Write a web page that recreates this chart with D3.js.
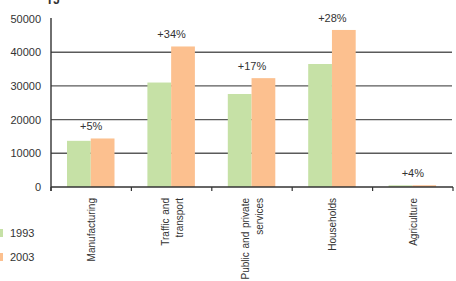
<!DOCTYPE html>
<html lang="en">
<head>
    <meta charset="UTF-8">
    <script src="https://d3js.org/d3.v7.min.js"></script>
    <style>
        body { margin: 0; background: white; }
        text { font-family: "Liberation Sans", Arial, sans-serif; fill: #333; }
        .cat { word-spacing: 1px; }
    </style>
</head>
<body>
<div id="chart"></div>
<script>
    // data
    const categories = [["Manufacturing"], ["Traffic and", "transport"], ["Public and private", "services"], ["Households"], ["Agriculture"]];
    const years = ["1993", "2003"];
    const values1993 = [13700, 31000, 27600, 36500, 500];
    const values2003 = [14400, 41700, 32300, 46600, 520];
    const changeLabels = ["+5%", "+34%", "+17%", "+28%", "+4%"];
    const yTicks = [0, 10000, 20000, 30000, 40000, 50000];
    const colors = ["#c6e1a6", "#fcc08f"];

    const W = 456, H = 281;
    const svg = d3.select("#chart").append("svg")
        .attr("width", W).attr("height", H);

    const x = d3.scaleBand().domain(d3.range(categories.length)).range([51, 453]);
    const y = d3.scaleLinear().domain([0, 50000]).range([187, 18.5]);
    const inner = d3.scaleBand().domain(years).range([16, 63.5]);

    // gridlines
    svg.append("g").selectAll("line")
        .data(yTicks.filter(d => d > 0 && d < 50000))
        .join("line")
        .attr("x1", 51).attr("x2", 452)
        .attr("y1", d => y(d)).attr("y2", d => y(d))
        .attr("stroke", "#5a5a5a").attr("stroke-width", 1.4);

    // y labels
    svg.append("g").selectAll("text")
        .data(yTicks).join("text")
        .attr("x", 41).attr("y", d => y(d) + 4)
        .attr("text-anchor", "end")
        .attr("font-size", 11)
        .text(d => d);

    // bars
    const series = [values1993, values2003];
    const grp = svg.append("g").selectAll("g")
        .data(categories.map((c, i) => i)).join("g")
        .attr("transform", i => `translate(${x(i)},0)`);
    grp.selectAll("rect")
        .data(i => years.map((yr, k) => ({ yr, v: series[k][i], k })))
        .join("rect")
        .attr("x", d => inner(d.yr))
        .attr("width", inner.bandwidth())
        .attr("y", d => y(d.v))
        .attr("height", d => y(0) - y(d.v))
        .attr("fill", d => colors[d.k]);

    // change labels
    grp.append("text")
        .attr("x", x.bandwidth() / 2)
        .attr("y", i => y(values2003[i]) - 8)
        .attr("text-anchor", "middle")
        .attr("font-size", 11)
        .text(i => changeLabels[i]);

    // axes
    svg.append("line")
        .attr("x1", 51).attr("x2", 51).attr("y1", 18).attr("y2", 191)
        .attr("stroke", "#333").attr("stroke-width", 1.4);
    svg.append("line")
        .attr("x1", 51).attr("x2", 453).attr("y1", y(0)).attr("y2", y(0))
        .attr("stroke", "#333").attr("stroke-width", 1.4);
    svg.append("g").selectAll("line")
        .data(d3.range(categories.length + 1)).join("line")
        .attr("x1", i => 51 + i * x.step()).attr("x2", i => 51 + i * x.step())
        .attr("y1", y(0)).attr("y2", y(0) + 4)
        .attr("stroke", "#333").attr("stroke-width", 1.2);

    // category labels, rotated
    categories.forEach((lines, i) => {
        const cx = x(i) + x.bandwidth() / 2;
        const t = svg.append("text")
            .attr("class", "cat")
            .attr("transform", `translate(${cx},198) rotate(-90)`)
            .attr("text-anchor", "end")
            .attr("font-size", 10);
        lines.forEach((ln, j) => {
            t.append("tspan")
                .attr("x", 0)
                .attr("y", 4 + (j - (lines.length - 1) / 2) * 14)
                .text(ln);
        });
    });

    // unit label (cut at top, as in the reference)
    svg.append("text")
        .attr("x", 46).attr("y", 4)
        .attr("font-size", 12).attr("font-weight", "bold")
        .text("TJ");

    // legend
    const leg = svg.append("g").selectAll("g")
        .data(years).join("g")
        .attr("transform", (d, k) => `translate(0,${233 + k * 24})`);
    leg.append("rect")
        .attr("x", -5).attr("y", -4).attr("width", 8).attr("height", 8)
        .attr("fill", (d, k) => colors[k]);
    leg.append("text")
        .attr("x", 10).attr("y", 4)
        .attr("font-size", 11)
        .text(d => d);
</script>
</body>
</html>
